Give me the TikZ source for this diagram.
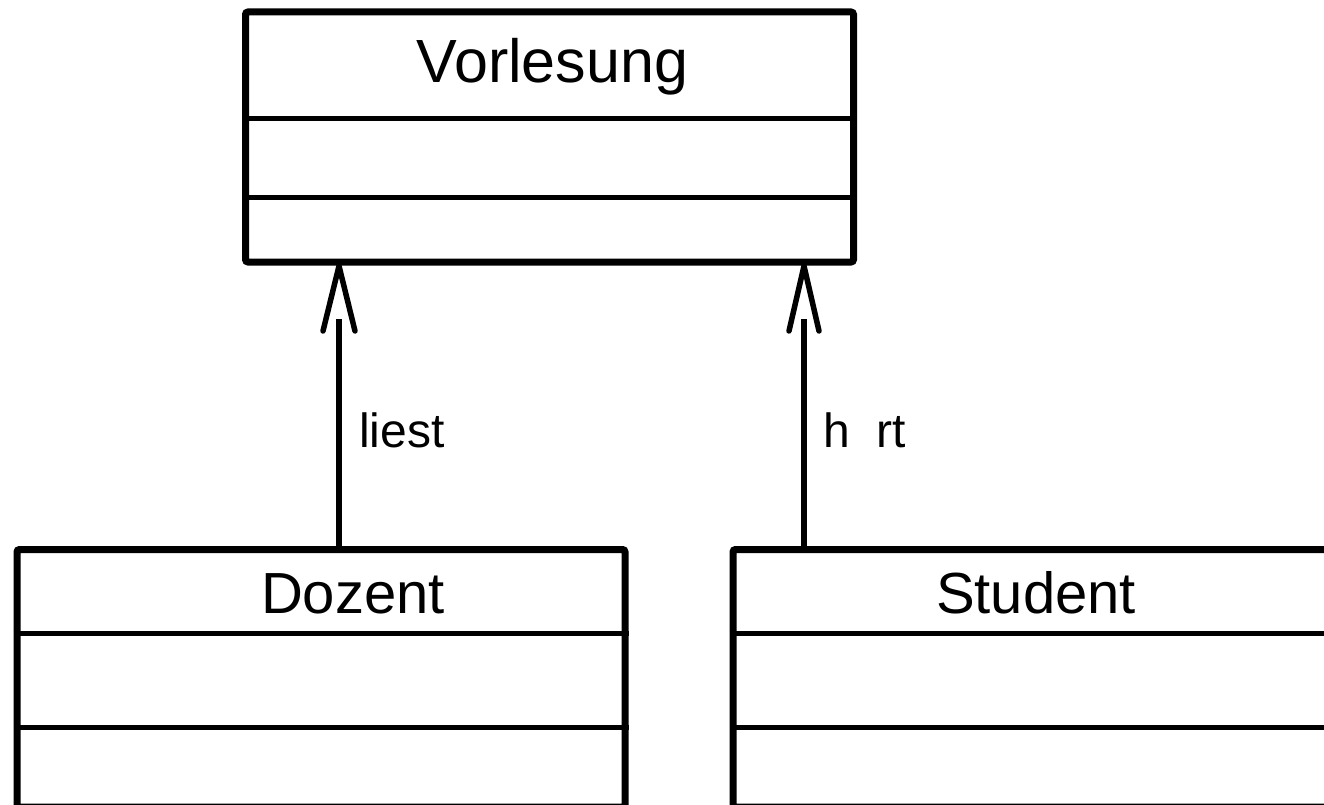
\documentclass[tikz,border=0pt]{standalone}
\usepackage{fontspec}
\setmainfont{Liberation Sans}
\begin{document}
\begin{tikzpicture}[x=1pt,y=-1pt,
  classbox/.style={draw, line width=7pt, rounded corners=2.5pt, inner sep=0pt, minimum width=608pt},
  divider/.style={line width=5pt},
  shaft/.style={line width=6pt},
  openhead/.style={line width=5.5pt, line cap=round, line join=round},
  titlefont/.style={font=\fontsize{61}{61}\selectfont, inner sep=0pt, anchor=base},
  namefont/.style={font=\fontsize{58}{58}\selectfont, inner sep=0pt, anchor=base},
  labelfont/.style={font=\fontsize{48}{48}\selectfont, inner sep=0pt, anchor=base west}]
\useasboundingbox (0,0) rectangle (1324,805);
\clip (0,0) rectangle (1324,805);
% Vorlesung
\node[classbox, minimum height=250pt] (vorl) at (549.5,137) {};
\draw[divider] (vorl.west |- 0,118.5) -- (vorl.east |- 0,118.5);
\draw[divider] (vorl.west |- 0,197.5) -- (vorl.east |- 0,197.5);
\node[titlefont] (vorlname) at (552.5,83) {Vorlesung};
% Dozent
\node[classbox, minimum height=257.5pt] (doz) at (321,678.25) {};
\draw[divider] (doz.west |- 0,633) -- (doz.east |- 0,633);
\draw[divider] (doz.west |- 0,727) -- (doz.east |- 0,727);
\node[namefont] (dozname) at (353,613) {Dozent};
% Student
\node[classbox, minimum height=257.5pt] (stud) at (1037,678.25) {};
\draw[divider] (stud.west |- 0,633) -- (stud.east |- 0,633);
\draw[divider] (stud.west |- 0,727) -- (stud.east |- 0,727);
\node[namefont] (studname) at (1036,613) {Student};
% associations
\coordinate (d1) at (339,319);
\coordinate (dtip) at (339,266);
\coordinate (dl) at (323,331);
\coordinate (dr) at (355,331);
\draw[shaft] (doz.north -| d1) -- (d1);
\draw[openhead] (dl) -- (dtip) -- (dr);
\node[labelfont] (liest) at (359,447) {liest};
\coordinate (s1) at (804,319);
\coordinate (stip) at (804,266);
\coordinate (sl) at (789,331);
\coordinate (sr) at (819,331);
\draw[shaft] (stud.north -| s1) -- (s1);
\draw[openhead] (sl) -- (stip) -- (sr);
\node[labelfont] (hoert) at (823,447) {h\phantom{ö}rt};
\end{tikzpicture}
\end{document}
